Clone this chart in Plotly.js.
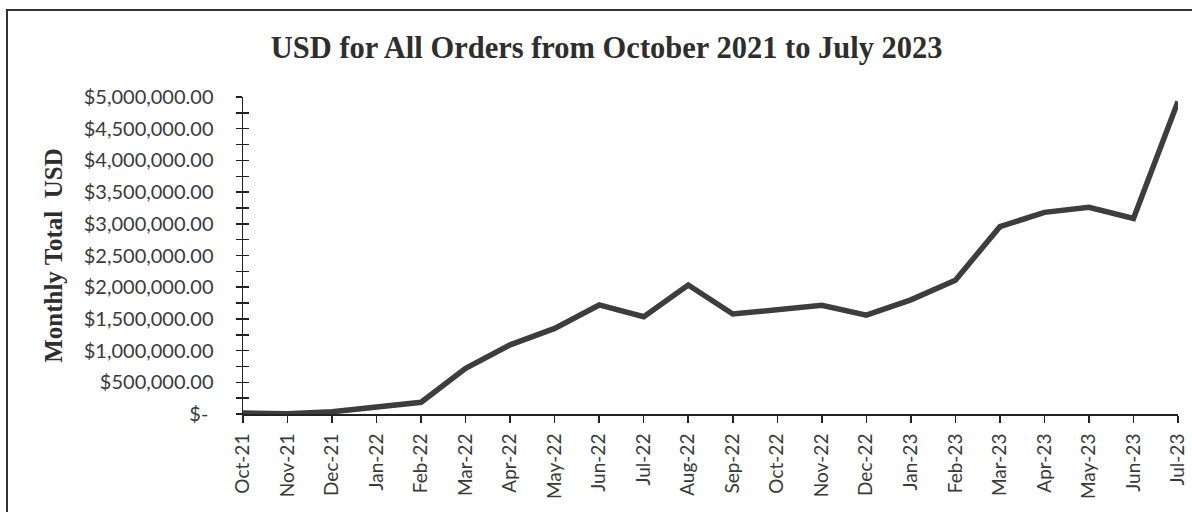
<!DOCTYPE html>
<html>
<head>
<meta charset="utf-8">
<script src="https://cdn.plot.ly/plotly-3.0.1.min.js"></script>
<style>
  html, body { margin: 0; padding: 0; background: #ffffff; }
  #chart { width: 1192px; height: 512px; }
</style>
</head>
<body>
<div id="chart"></div>
<script>
// Data
const months = ["Oct-21","Nov-21","Dec-21","Jan-22","Feb-22","Mar-22","Apr-22","May-22","Jun-22","Jul-22","Aug-22","Sep-22","Oct-22","Nov-22","Dec-22","Jan-23","Feb-23","Mar-23","Apr-23","May-23","Jun-23","Jul-23"];
const monthlyUSD = [15000, 5000, 35000, 100000, 185000, 720000, 1090000, 1350000, 1720000, 1535000, 2035000, 1577000, 1650000, 1715000, 1560000, 1800000, 2110000, 2955000, 3180000, 3260000, 3085000, 4930000];
const yTickVals = [0, 500000, 1000000, 1500000, 2000000, 2500000, 3000000, 3500000, 4000000, 4500000, 5000000];
const yTickText = ["$-\u00a0", "$500,000.00", "$1,000,000.00", "$1,500,000.00", "$2,000,000.00", "$2,500,000.00", "$3,000,000.00", "$3,500,000.00", "$4,000,000.00", "$4,500,000.00", "$5,000,000.00"];

const lineColor = "#3d3d3d";
const textColor = "#3a3a3a";
const yLabelFont = { family: "Lato, 'Noto Sans', sans-serif", size: 20, color: textColor };
const xLabelFont = { family: "Lato, 'Noto Sans', sans-serif", size: 19, color: textColor };

const traces = [
  {
    x: months, y: monthlyUSD, type: "scatter", mode: "lines",
    line: { color: lineColor, width: 5.5 },
    hoverinfo: "x+y", showlegend: false
  },
  {
    x: months, y: monthlyUSD, type: "scatter", mode: "lines",
    yaxis: "y2", line: { color: "rgba(0,0,0,0)", width: 0 },
    hoverinfo: "skip", showlegend: false
  }
];

const layout = {
  width: 1192, height: 512,
  paper_bgcolor: "#ffffff", plot_bgcolor: "#ffffff",
  margin: { l: 243, r: 14, t: 97, b: 98 },
  showlegend: false,
  title: {
    text: "<b>USD for All Orders from October 2021 to July 2023</b>",
    font: { family: "'Liberation Serif', 'Times New Roman', serif", size: 30.5, color: "#2e2e2e" },
    xref: "container", yref: "container",
    x: 0.509, xanchor: "center",
    y: 0.907, yanchor: "middle"
  },
  xaxis: {
    type: "category",
    range: [0, months.length - 1],
    showgrid: false, zeroline: false,
    showline: true, linecolor: "#222", linewidth: 2,
    ticks: "outside", ticklen: 7, tickwidth: 1.5, tickcolor: "#222",
    tickangle: -90,
    tickfont: xLabelFont,
    ticklabelstandoff: 3,
    automargin: false,
    fixedrange: true
  },
  yaxis: {
    range: [0, 5000000],
    showgrid: false, zeroline: false,
    showline: true, linecolor: "#222", linewidth: 1.5,
    tickmode: "array", tickvals: yTickVals, ticktext: yTickText,
    ticks: "outside", ticklen: 6, tickwidth: 1.5, tickcolor: "#222",
    minor: { dtick: 250000, ticks: "outside", ticklen: 6, tickwidth: 1.5, tickcolor: "#222", showgrid: false },
    tickfont: yLabelFont,
    ticklabelstandoff: 18,
    automargin: false,
    title: {
      text: "<b>Monthly Total  USD</b>",
      font: { family: "'Liberation Serif', 'Times New Roman', serif", size: 25, color: "#2e2e2e" },
      standoff: 14
    },
    fixedrange: true
  },
  yaxis2: {
    overlaying: "y", side: "left",
    range: [0, 5000000],
    showgrid: false, zeroline: false, showline: false,
    tickmode: "array", tickvals: yTickVals,
    showticklabels: false,
    ticks: "inside", ticklen: 6, tickwidth: 1.5, tickcolor: "#222",
    minor: { dtick: 250000, ticks: "inside", ticklen: 6, tickwidth: 1.5, tickcolor: "#222", showgrid: false },
    automargin: false,
    fixedrange: true
  },
  shapes: [
    {
      type: "rect", xref: "paper", yref: "paper",
      x0: -0.2524, x1: 1.02, y0: -0.32, y1: 1.2744,
      line: { color: "#333", width: 2 }, fillcolor: "rgba(0,0,0,0)", layer: "below"
    }
  ]
};

Plotly.newPlot("chart", traces, layout, { displayModeBar: false, staticPlot: true });
</script>
</body>
</html>
